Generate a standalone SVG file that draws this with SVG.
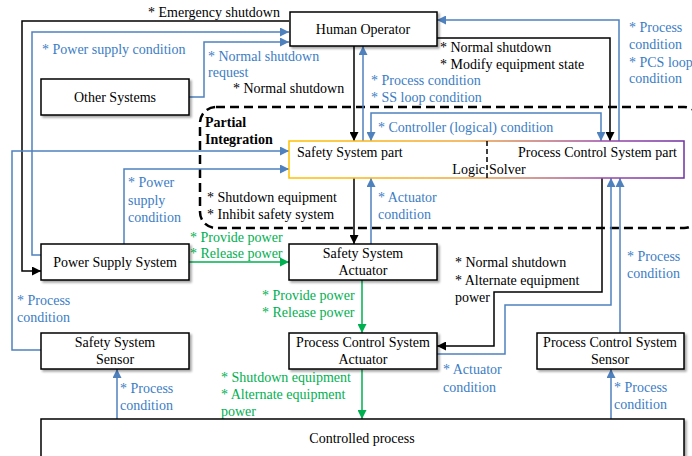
<svg xmlns="http://www.w3.org/2000/svg" width="692" height="456" viewBox="0 0 692 456" font-family="'Liberation Serif', 'DejaVu Serif', serif" font-size="14">
  <defs>
    <style>
      text { font-family: 'Liberation Serif', 'DejaVu Serif', serif; font-size: 14px; }
      .k { fill: #000; }
      .b { fill: #3C7DC4; }
      .g { fill: #00B050; }
      .c { text-anchor: middle; }
      .box { fill: #fff; stroke: #000; stroke-width: 1.5; filter: url(#shadow); }
      .lk { fill: none; stroke: #000; stroke-width: 1.5; marker-end: url(#ak); }
      .lb { fill: none; stroke: #4F81BD; stroke-width: 1.5; marker-end: url(#ab); }
      .lg { fill: none; stroke: #00B050; stroke-width: 1.5; marker-end: url(#ag); }
    </style>
    <filter id="shadow" x="-10%" y="-20%" width="130%" height="160%">
      <feDropShadow dx="2" dy="2" stdDeviation="1.2" flood-color="#000" flood-opacity="0.35"/>
    </filter>
    <linearGradient id="lsBorder" x1="0" y1="0" x2="1" y2="0">
      <stop offset="0" stop-color="#FFC000"/>
      <stop offset="0.45" stop-color="#F2A63A"/>
      <stop offset="0.8" stop-color="#9A48A8"/>
      <stop offset="1" stop-color="#7030A0"/>
    </linearGradient>
    <marker id="ak" viewBox="0 0 10 10" refX="10" refY="5" markerWidth="11" markerHeight="9" markerUnits="userSpaceOnUse" orient="auto-start-reverse">
      <path d="M0,0 L10,5 L0,10 z" fill="#000"/>
    </marker>
    <marker id="ab" viewBox="0 0 10 10" refX="10" refY="5" markerWidth="11" markerHeight="9" markerUnits="userSpaceOnUse" orient="auto-start-reverse">
      <path d="M0,0 L10,5 L0,10 z" fill="#4F81BD"/>
    </marker>
    <marker id="ag" viewBox="0 0 10 10" refX="10" refY="5" markerWidth="11" markerHeight="9" markerUnits="userSpaceOnUse" orient="auto-start-reverse">
      <path d="M0,0 L10,5 L0,10 z" fill="#00B050"/>
    </marker>
  </defs>

  <rect width="692" height="456" fill="#fff"/>

  <!-- Partial integration boundary -->
  <g id="partial-integration">
    <rect x="200" y="107" width="500" height="121" rx="16" fill="none" stroke="#000" stroke-width="2.5" stroke-dasharray="9 5"/>
    <text x="205" y="127" font-weight="bold">Partial</text>
    <text x="205" y="144" font-weight="bold">Integration</text>
  </g>

  <!-- Connectors -->
  <g id="connectors">
    <!-- control actions (black) -->
    <path class="lk" d="M289,21 H22 V271 H41"/>
    <path class="lk" d="M354,46 V141"/>
    <path class="lk" d="M437,38 H610 V141"/>
    <path class="lk" d="M354,178 V244"/>
    <path class="lk" d="M602,178 V292 H494 V346 H437"/>
    <!-- feedback (blue) -->
    <path class="lb" d="M41,255 H32 V32 H289"/>
    <path class="lb" d="M189,97 H204 V42 H289"/>
    <path class="lb" d="M363,141 V46"/>
    <path class="lb" d="M371,141 V113 H601 V141" marker-start="url(#ab)"/>
    <path class="lb" d="M619,141 V20 H437"/>
    <path class="lb" d="M41,350 H12 V151 H289"/>
    <path class="lb" d="M124,244 V169 H289"/>
    <path class="lb" d="M371,244 V178"/>
    <path class="lb" d="M437,354 H505 V305 H611 V178"/>
    <path class="lb" d="M620,333 V178"/>
    <path class="lb" d="M117,419 V369"/>
    <path class="lb" d="M611,419 V369"/>
    <!-- power (green) -->
    <path class="lg" d="M189,262 H289"/>
    <path class="lg" d="M362,280 V333"/>
    <path class="lg" d="M362,369 V419"/>
  </g>

  <!-- Connector labels -->
  <g id="labels">
    <text class="k" x="148" y="17">* Emergency  shutdown</text>
    <text class="k" x="233" y="93">* Normal  shutdown</text>
    <text class="k" x="440" y="52">* Normal  shutdown</text>
    <text class="k" x="440" y="69">* Modify  equipment  state</text>
    <text class="k" x="207" y="202">* Shutdown equipment</text>
    <text class="k" x="207" y="219">* Inhibit  safety system</text>
    <text class="k" x="455" y="267">* Normal  shutdown</text>
    <text class="k" x="455" y="285">* Alternate  equipment</text>
    <text class="k" x="455" y="302">power</text>

    <text class="b" x="42" y="54">* Power supply condition</text>
    <text class="b" x="208" y="61">* Normal  shutdown</text>
    <text class="b" x="208" y="77">request</text>
    <text class="b" x="371" y="85">* Process condition</text>
    <text class="b" x="371" y="102">* SS loop condition</text>
    <text class="b" x="629" y="32">* Process</text>
    <text class="b" x="629" y="49">condition</text>
    <text class="b" x="629" y="67">* PCS loop</text>
    <text class="b" x="629" y="83">condition</text>
    <text class="b" x="378" y="132">* Controller  (logical)  condition</text>
    <text class="b" x="128" y="187">* Power</text>
    <text class="b" x="128" y="205">supply</text>
    <text class="b" x="128" y="222">condition</text>
    <text class="b" x="378" y="202">* Actuator</text>
    <text class="b" x="378" y="219">condition</text>
    <text class="b" x="17" y="305">* Process</text>
    <text class="b" x="17" y="322">condition</text>
    <text class="b" x="627" y="261">* Process</text>
    <text class="b" x="627" y="278">condition</text>
    <text class="b" x="443" y="374">* Actuator</text>
    <text class="b" x="443" y="392">condition</text>
    <text class="b" x="120" y="393">* Process</text>
    <text class="b" x="120" y="410">condition</text>
    <text class="b" x="614" y="392">* Process</text>
    <text class="b" x="614" y="409">condition</text>

    <text class="g" x="190" y="242">* Provide power</text>
    <text class="g" x="190" y="258">* Release power</text>
    <text class="g" x="262" y="300">* Provide power</text>
    <text class="g" x="262" y="317">* Release power</text>
    <text class="g" x="221" y="382">* Shutdown equipment</text>
    <text class="g" x="221" y="399">* Alternate  equipment</text>
    <text class="g" x="221" y="416">power</text>
  </g>

  <!-- Nodes -->
  <g id="human-operator">
    <rect class="box" x="290" y="12" width="147" height="34"/>
    <text class="c" x="363" y="34">Human  Operator</text>
  </g>
  <g id="other-systems">
    <rect class="box" x="41" y="79" width="148" height="36"/>
    <text class="c" x="115" y="102">Other Systems</text>
  </g>
  <g id="logic-solver">
    <rect x="289" y="141" width="395" height="37" fill="#fff" stroke="url(#lsBorder)" stroke-width="1.5"/>
    <line x1="487" y1="141" x2="487" y2="178" stroke="#000" stroke-width="1.5" stroke-dasharray="5 3"/>
    <text x="297" y="157">Safety System part</text>
    <text x="677" y="157" text-anchor="end">Process Control System part</text>
    <text x="485" y="174" text-anchor="end">Logic</text>
    <text x="489" y="174">Solver</text>
  </g>
  <g id="power-supply-system">
    <rect class="box" x="41" y="244" width="148" height="36"/>
    <text class="c" x="115" y="267">Power Supply System</text>
  </g>
  <g id="safety-system-actuator">
    <rect class="box" x="289" y="244" width="148" height="36"/>
    <text class="c" x="363" y="258">Safety  System</text>
    <text class="c" x="363" y="275">Actuator</text>
  </g>
  <g id="safety-system-sensor">
    <rect class="box" x="41" y="333" width="148" height="36"/>
    <text class="c" x="115" y="347">Safety System</text>
    <text class="c" x="115" y="364">Sensor</text>
  </g>
  <g id="pcs-actuator">
    <rect class="box" x="289" y="333" width="148" height="36"/>
    <text class="c" x="363" y="347">Process Control System</text>
    <text class="c" x="363" y="364">Actuator</text>
  </g>
  <g id="pcs-sensor">
    <rect class="box" x="537" y="333" width="147" height="36"/>
    <text class="c" x="610" y="347">Process Control System</text>
    <text class="c" x="610" y="364">Sensor</text>
  </g>
  <g id="controlled-process">
    <rect class="box" x="41" y="419" width="643" height="45"/>
    <text class="c" x="362" y="443">Controlled process</text>
  </g>
</svg>
